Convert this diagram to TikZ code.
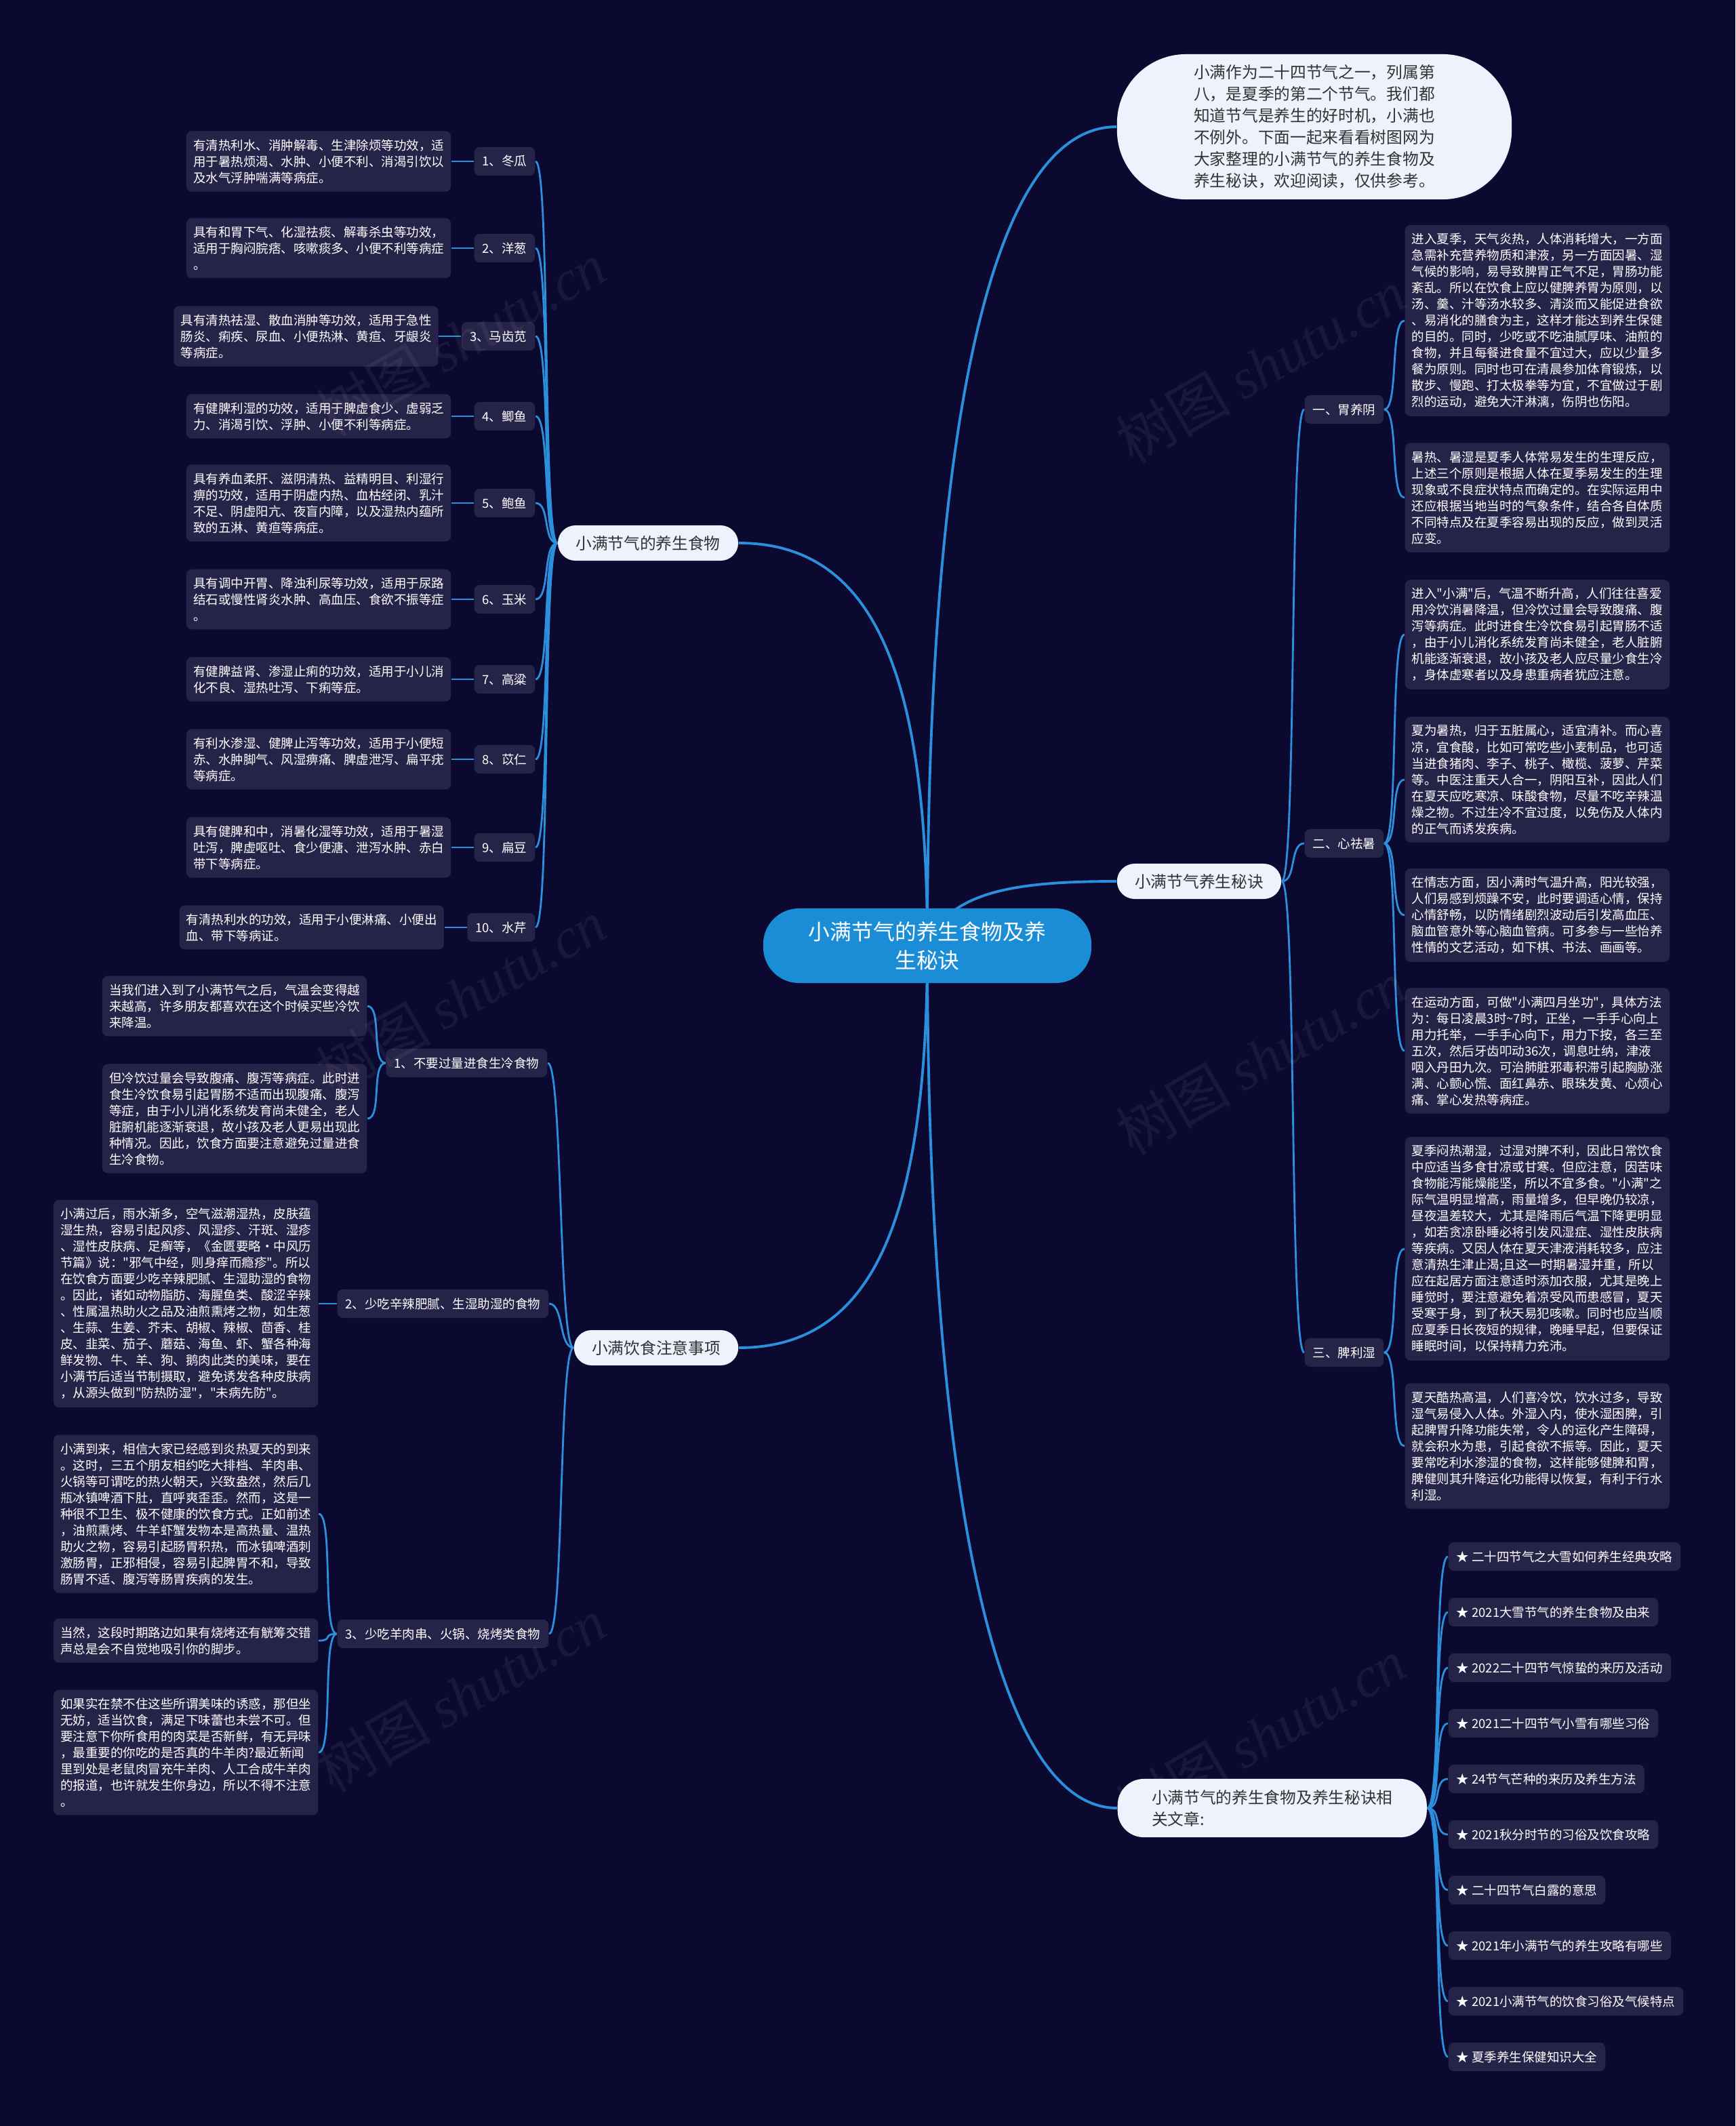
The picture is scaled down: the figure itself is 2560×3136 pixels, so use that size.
\documentclass[tikz,border=0pt]{standalone}
\usepackage{fontspec}
\setmainfont{Noto Sans CJK SC}[Ligatures=TeXOff]
\newfontfamily\wmserif{Liberation Serif}
\usetikzlibrary{calc}
\definecolor{bgcol}{RGB}{12,9,49}
\definecolor{boxcol}{RGB}{38,35,72}
\definecolor{linkcol}{RGB}{43,143,219}
\definecolor{rootcol}{RGB}{27,141,214}
\definecolor{lightcol}{RGB}{238,242,252}
\definecolor{darktext}{RGB}{51,51,51}
\pgfdeclarelayer{back}\pgfdeclarelayer{links}
\pgfsetlayers{back,links,main}
\newcommand\fdesc{\fontsize{5.26pt}{6.83pt}\selectfont}
\newcommand\fmid{\fontsize{6.74pt}{9.1pt}\selectfont}
\newcommand\froot{\fontsize{9.05pt}{11.95pt}\selectfont}
\newcommand\fwm{\fontsize{24pt}{24pt}\selectfont}
\tikzset{
  desc/.style={fill=boxcol, text=white, font=\fdesc, align=left, rounded corners=2.3pt, inner xsep=2.9pt, inner ysep=3.4pt},
  lab/.style={fill=boxcol, text=white, font=\fdesc, rounded corners=2.3pt, inner xsep=3.4pt, minimum height=12pt},
  mid/.style={fill=lightcol, text=darktext, font=\fmid, rounded corners=7.4pt, inner xsep=7.5pt, minimum height=14.8pt},
  rootnode/.style={fill=rootcol, text=white, font=\froot, align=center, rounded corners=15pt, minimum width=137.7pt, minimum height=31.3pt},
  link/.style={draw=linkcol, line width=0.8pt},
  rootlink/.style={draw=linkcol, line width=1.1pt},
  wm/.style={text=white, opacity=0.06, rotate=30, font=\fwm}
}
\newcommand\lnkL[2]{\draw[link] (#1.west) .. controls +(-22,0) and +(22,0) .. (#2.east);}
\newcommand\lnkR[2]{\draw[link] (#1.east) .. controls +(22,0) and +(-22,0) .. (#2.west);}
\begin{document}
\begin{tikzpicture}[x=0.01cm,y=-0.01cm]
\useasboundingbox (0,0) rectangle (2560,3136);
\begin{pgfonlayer}{back}
\fill[bgcol] (0,0) rectangle (2560,3136);
\end{pgfonlayer}

% root and level 1
\node[rootnode] (root) at (1368,1395) {小满节气的养生食物及养\\生秘诀};
\node[mid] (food) at (956,801) {小满节气的养生食物};
\node[mid] (diet) at (968,1988) {小满饮食注意事项};
\node[mid] (mij) at (1769,1300) {小满节气养生秘诀};
\node[mid, align=left, rounded corners=11pt, minimum width=129.7pt, minimum height=24.5pt, anchor=west] (rel) at (1648,2667) {小满节气的养生食物及养生秘诀相\\关文章:};
\node[fill=lightcol, text=darktext, font=\fmid, align=left, rounded corners=29pt, minimum width=165.6pt, minimum height=60.9pt] (intro) at (1939,187) {小满作为二十四节气之一，列属第\\八，是夏季的第二个节气。我们都\\知道节气是养生的好时机，小满也\\不例外。下面一起来看看树图网为\\大家整理的小满节气的养生食物及\\养生秘诀，欢迎阅读，仅供参考。};

% food labels
\node[lab, anchor=east] (l1) at (790,238) {1、冬瓜};
\node[lab, anchor=east] (l2) at (790,366) {2、洋葱};
\node[lab, anchor=east] (l3) at (790,496) {3、马齿苋};
\node[lab, anchor=east] (l4) at (790,614) {4、鲫鱼};
\node[lab, anchor=east] (l5) at (790,742) {5、鲍鱼};
\node[lab, anchor=east] (l6) at (790,884) {6、玉米};
\node[lab, anchor=east] (l7) at (790,1002) {7、高粱};
\node[lab, anchor=east] (l8) at (790,1120) {8、苡仁};
\node[lab, anchor=east] (l9) at (790,1250) {9、扁豆};
\node[lab, anchor=east] (l10) at (790,1368) {10、水芹};

% food descriptions
\node[desc, anchor=east] (f1) at ($(l1.west)+(-33,0)$) {有清热利水、消肿解毒、生津除烦等功效，适\\用于暑热烦渴、水肿、小便不利、消渴引饮以\\及水气浮肿喘满等病症。};
\node[desc, anchor=east] (f2) at ($(l2.west)+(-33,0)$) {具有和胃下气、化湿祛痰、解毒杀虫等功效，\\适用于胸闷脘痞、咳嗽痰多、小便不利等病症\\。};
\node[desc, anchor=east] (f3) at ($(l3.west)+(-33,0)$) {具有清热祛湿、散血消肿等功效，适用于急性\\肠炎、痢疾、尿血、小便热淋、黄疸、牙龈炎\\等病症。};
\node[desc, anchor=east] (f4) at ($(l4.west)+(-33,0)$) {有健脾利湿的功效，适用于脾虚食少、虚弱乏\\力、消渴引饮、浮肿、小便不利等病症。};
\node[desc, anchor=east] (f5) at ($(l5.west)+(-33,0)$) {具有养血柔肝、滋阴清热、益精明目、利湿行\\痹的功效，适用于阴虚内热、血枯经闭、乳汁\\不足、阴虚阳亢、夜盲内障，以及湿热内蕴所\\致的五淋、黄疸等病症。};
\node[desc, anchor=east] (f6) at ($(l6.west)+(-33,0)$) {具有调中开胃、降浊利尿等功效，适用于尿路\\结石或慢性肾炎水肿、高血压、食欲不振等症\\。};
\node[desc, anchor=east] (f7) at ($(l7.west)+(-33,0)$) {有健脾益肾、渗湿止痢的功效，适用于小儿消\\化不良、湿热吐泻、下痢等症。};
\node[desc, anchor=east] (f8) at ($(l8.west)+(-33,0)$) {有利水渗湿、健脾止泻等功效，适用于小便短\\赤、水肿脚气、风湿痹痛、脾虚泄泻、扁平疣\\等病症。};
\node[desc, anchor=east] (f9) at ($(l9.west)+(-33,0)$) {具有健脾和中，消暑化湿等功效，适用于暑湿\\吐泻，脾虚呕吐、食少便溏、泄泻水肿、赤白\\带下等病症。};
\node[desc, anchor=east] (f10) at ($(l10.west)+(-33,0)$) {有清热利水的功效，适用于小便淋痛、小便出\\血、带下等病证。};

% diet labels
\node[lab, anchor=east] (g1) at (808,1568) {1、不要过量进食生冷食物};
\node[lab, anchor=east] (g2) at (810,1923) {2、少吃辛辣肥腻、生湿助湿的食物};
\node[lab, anchor=east] (g3) at (810,2410) {3、少吃羊肉串、火锅、烧烤类食物};

% diet descriptions
\node[desc, anchor=east] (g1a) at (542,1484) {当我们进入到了小满节气之后，气温会变得越\\来越高，许多朋友都喜欢在这个时候买些冷饮\\来降温。};
\node[desc, anchor=east] (g1b) at (542,1650) {但冷饮过量会导致腹痛、腹泻等病症。此时进\\食生冷饮食易引起胃肠不适而出现腹痛、腹泻\\等症，由于小儿消化系统发育尚未健全，老人\\脏腑机能逐渐衰退，故小孩及老人更易出现此\\种情况。因此，饮食方面要注意避免过量进食\\生冷食物。};
\node[desc, anchor=east] (g2a) at (470,1923) {小满过后，雨水渐多，空气滋潮湿热，皮肤蕴\\湿生热，容易引起风疹、风湿疹、汗斑、湿疹\\、湿性皮肤病、足癣等，《金匮要略·中风历\\节篇》说："邪气中经，则身痒而瘾疹"。所以\\在饮食方面要少吃辛辣肥腻、生湿助湿的食物\\。因此，诸如动物脂肪、海腥鱼类、酸涩辛辣\\、性属温热助火之品及油煎熏烤之物，如生葱\\、生蒜、生姜、芥末、胡椒、辣椒、茴香、桂\\皮、韭菜、茄子、蘑菇、海鱼、虾、蟹各种海\\鲜发物、牛、羊、狗、鹅肉此类的美味，要在\\小满节后适当节制摄取，避免诱发各种皮肤病\\，从源头做到"防热防湿"，"未病先防"。};
\node[desc, anchor=east] (g3a) at (470,2233) {小满到来，相信大家已经感到炎热夏天的到来\\。这时，三五个朋友相约吃大排档、羊肉串、\\火锅等可谓吃的热火朝天，兴致盎然，然后几\\瓶冰镇啤酒下肚，直呼爽歪歪。然而，这是一\\种很不卫生、极不健康的饮食方式。正如前述\\，油煎熏烤、牛羊虾蟹发物本是高热量、温热\\助火之物，容易引起肠胃积热，而冰镇啤酒刺\\激肠胃，正邪相侵，容易引起脾胃不和，导致\\肠胃不适、腹泻等肠胃疾病的发生。};
\node[desc, anchor=east] (g3b) at (470,2420) {当然，这段时期路边如果有烧烤还有觥筹交错\\声总是会不自觉地吸引你的脚步。};
\node[desc, anchor=east] (g3c) at (470,2585) {如果实在禁不住这些所谓美味的诱惑，那但坐\\无妨，适当饮食，满足下味蕾也未尝不可。但\\要注意下你所食用的肉菜是否新鲜，有无异味\\，最重要的你吃的是否真的牛羊肉?最近新闻\\里到处是老鼠肉冒充牛羊肉、人工合成牛羊肉\\的报道，也许就发生你身边，所以不得不注意\\。};

% right level 2
\node[lab, anchor=west] (w) at (1924,604) {一、胃养阴};
\node[lab, anchor=west] (x) at (1924,1244) {二、心祛暑};
\node[lab, anchor=west] (p) at (1924,1995) {三、脾利湿};

\node[desc, anchor=west] (w1) at (2072,473) {进入夏季，天气炎热，人体消耗增大，一方面\\急需补充营养物质和津液，另一方面因暑、湿\\气候的影响，易导致脾胃正气不足，胃肠功能\\紊乱。所以在饮食上应以健脾养胃为原则，以\\汤、羹、汁等汤水较多、清淡而又能促进食欲\\、易消化的膳食为主，这样才能达到养生保健\\的目的。同时，少吃或不吃油腻厚味、油煎的\\食物，并且每餐进食量不宜过大，应以少量多\\餐为原则。同时也可在清晨参加体育锻炼，以\\散步、慢跑、打太极拳等为宜，不宜做过于剧\\烈的运动，避免大汗淋漓，伤阴也伤阳。};
\node[desc, anchor=west] (w2) at (2072,734) {暑热、暑湿是夏季人体常易发生的生理反应，\\上述三个原则是根据人体在夏季易发生的生理\\现象或不良症状特点而确定的。在实际运用中\\还应根据当地当时的气象条件，结合各自体质\\不同特点及在夏季容易出现的反应，做到灵活\\应变。};
\node[desc, anchor=west] (x1) at (2072,936) {进入"小满"后，气温不断升高，人们往往喜爱\\用冷饮消暑降温，但冷饮过量会导致腹痛、腹\\泻等病症。此时进食生冷饮食易引起胃肠不适\\，由于小儿消化系统发育尚未健全，老人脏腑\\机能逐渐衰退，故小孩及老人应尽量少食生冷\\，身体虚寒者以及身患重病者犹应注意。};
\node[desc, anchor=west] (x2) at (2072,1150) {夏为暑热，归于五脏属心，适宜清补。而心喜\\凉，宜食酸，比如可常吃些小麦制品，也可适\\当进食猪肉、李子、桃子、橄榄、菠萝、芹菜\\等。中医注重天人合一，阴阳互补，因此人们\\在夏天应吃寒凉、味酸食物，尽量不吃辛辣温\\燥之物。不过生冷不宜过度，以免伤及人体内\\的正气而诱发疾病。};
\node[desc, anchor=west] (x3) at (2072,1350) {在情志方面，因小满时气温升高，阳光较强，\\人们易感到烦躁不安，此时要调适心情，保持\\心情舒畅，以防情绪剧烈波动后引发高血压、\\脑血管意外等心脑血管病。可多参与一些怡养\\性情的文艺活动，如下棋、书法、画画等。};
\node[desc, anchor=west] (x4) at (2072,1550) {在运动方面，可做"小满四月坐功"，具体方法\\为：每日凌晨3时\textasciitilde 7时，正坐，一手手心向上\\用力托举，一手手心向下，用力下按，各三至\\五次，然后牙齿叩动36次，调息吐纳，津液\\咽入丹田九次。可治肺脏邪毒积滞引起胸胁涨\\满、心颤心慌、面红鼻赤、眼珠发黄、心烦心\\痛、掌心发热等病症。};
\node[desc, anchor=west] (p1) at (2072,1842) {夏季闷热潮湿，过湿对脾不利，因此日常饮食\\中应适当多食甘凉或甘寒。但应注意，因苦味\\食物能泻能燥能坚，所以不宜多食。"小满"之\\际气温明显增高，雨量增多，但早晚仍较凉，\\昼夜温差较大，尤其是降雨后气温下降更明显\\，如若贪凉卧睡必将引发风湿症、湿性皮肤病\\等疾病。又因人体在夏天津液消耗较多，应注\\意清热生津止渴;且这一时期暑湿并重，所以\\应在起居方面注意适时添加衣服，尤其是晚上\\睡觉时，要注意避免着凉受风而患感冒，夏天\\受寒于身，到了秋天易犯咳嗽。同时也应当顺\\应夏季日长夜短的规律，晚睡早起，但要保证\\睡眠时间，以保持精力充沛。};
\node[desc, anchor=west] (p2) at (2072,2133) {夏天酷热高温，人们喜冷饮，饮水过多，导致\\湿气易侵入人体。外湿入内，使水湿困脾，引\\起脾胃升降功能失常，令人的运化产生障碍，\\就会积水为患，引起食欲不振等。因此，夏天\\要常吃利水渗湿的食物，这样能够健脾和胃，\\脾健则其升降运化功能得以恢复，有利于行水\\利湿。};

% related articles
\node[lab, anchor=west] (r1) at (2136,2296) {★ 二十四节气之大雪如何养生经典攻略};
\node[lab, anchor=west] (r2) at (2136,2378) {★ 2021大雪节气的养生食物及由来};
\node[lab, anchor=west] (r3) at (2136,2460) {★ 2022二十四节气惊蛰的来历及活动};
\node[lab, anchor=west] (r4) at (2136,2542) {★ 2021二十四节气小雪有哪些习俗};
\node[lab, anchor=west] (r5) at (2136,2624) {★ 24节气芒种的来历及养生方法};
\node[lab, anchor=west] (r6) at (2136,2706) {★ 2021秋分时节的习俗及饮食攻略};
\node[lab, anchor=west] (r7) at (2136,2788) {★ 二十四节气白露的意思};
\node[lab, anchor=west] (r8) at (2136,2870) {★ 2021年小满节气的养生攻略有哪些};
\node[lab, anchor=west] (r9) at (2136,2952) {★ 2021小满节气的饮食习俗及气候特点};
\node[lab, anchor=west] (r10) at (2136,3034) {★ 夏季养生保健知识大全};

% connectors
\begin{pgfonlayer}{links}
\draw[rootlink] (root.center) .. controls +(0,-400) and +(200,0) .. (food.east);
\draw[rootlink] (root.center) .. controls +(0,400) and +(200,0) .. (diet.east);
\draw[rootlink] (root.center) .. controls +(0,-700) and +(-200,0) .. (intro.west);
\draw[rootlink] (root.center) .. controls +(30,-80) and +(-150,0) .. (mij.west);
\draw[rootlink] (root.center) .. controls +(0,700) and +(-200,0) .. (rel.west);
\foreach \i in {1,...,10} {\lnkL{food}{l\i}\draw[link] (l\i.west) -- (f\i.east);}
\lnkL{diet}{g1}\lnkL{diet}{g2}\lnkL{diet}{g3}
\lnkL{g1}{g1a}\lnkL{g1}{g1b}
\lnkL{g2}{g2a}
\lnkL{g3}{g3a}\lnkL{g3}{g3b}\lnkL{g3}{g3c}
\lnkR{mij}{w}\lnkR{mij}{x}\lnkR{mij}{p}
\lnkR{w}{w1}\lnkR{w}{w2}
\lnkR{x}{x1}\lnkR{x}{x2}\lnkR{x}{x3}\lnkR{x}{x4}
\lnkR{p}{p1}\lnkR{p}{p2}
\foreach \i in {1,...,10} {\lnkR{rel}{r\i}}
\end{pgfonlayer}

% watermarks
\foreach \wx/\wy in {680/500,680/1470,680/2500,1860/540,1860/1560,1860/2560}
  \node[wm] at (\wx,\wy) {树图 {\wmserif\itshape shutu.cn}};
\end{tikzpicture}
\end{document}
